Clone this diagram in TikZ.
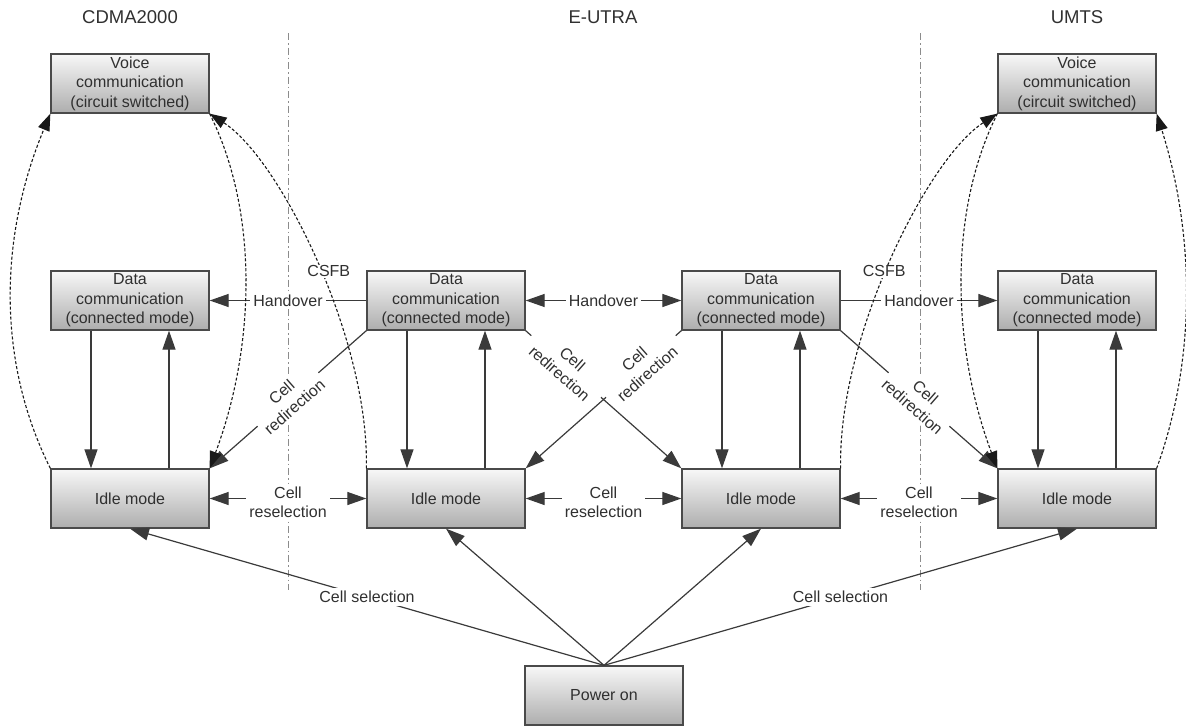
\documentclass[tikz,border=0pt]{standalone}
\usepackage{fontspec}
\setmainfont{Liberation Sans}
\usetikzlibrary{arrows.meta,calc}
\definecolor{txt}{HTML}{303030}
\definecolor{ln}{HTML}{3A3A3A}
\definecolor{bd}{HTML}{4A4A4A}
\begin{document}
\begin{tikzpicture}[x=1pt,y=-1pt,
  box/.style={draw=bd,line width=1.3pt,minimum width=158pt,minimum height=59pt,inner sep=0pt,
    align=center,top color=white!97!black,bottom color=black!32,
    font=\fontsize{16}{19.5}\selectfont,text=txt},
  ttl/.style={font=\fontsize{18.5}{22}\selectfont,text=txt},
  lbl/.style={fill=white,inner sep=3pt,align=center,font=\fontsize{16}{19.5}\selectfont,text=txt},
  conn/.style={draw=ln,line width=1.2pt,-{Triangle[length=19pt,width=13pt]}},
  both/.style={draw=ln,line width=1.2pt,{Triangle[length=19pt,width=13pt]}-{Triangle[length=19pt,width=13pt]}},
  dconn/.style={draw=black!90,line width=1.1pt,dash pattern=on 3pt off 2pt,-{Triangle[length=17pt,width=12pt]}},
  sep/.style={draw=black!45,line width=0.8pt,dash pattern=on 7pt off 3pt on 1.5pt off 3pt}]
\useasboundingbox (0,0) rectangle (1186,726);

% separators
\coordinate (s1a) at (288,33);  \coordinate (s1b) at (288,590);
\coordinate (s2a) at (920,33);  \coordinate (s2b) at (920,590);
\draw[sep] (s1a) -- (s1b);
\draw[sep] (s2a) -- (s2b);

% titles
\node[ttl] (tC) at (130,17) {CDMA2000};
\node[ttl] (tE) at (603,17) {E-UTRA};
\node[ttl] (tU) at (1077,17) {UMTS};

% boxes
\node[box] (vC) at (130,83.5) {Voice\\communication\\(circuit switched)};
\node[box] (dC) at (130,300.5) {Data\\communication\\(connected mode)};
\node[box] (iC) at (130,498.5) {Idle mode};
\node[box] (dE1) at (446,300.5) {Data\\communication\\(connected mode)};
\node[box] (iE1) at (446,498.5) {Idle mode};
\node[box] (dE2) at (761,300.5) {Data\\communication\\(connected mode)};
\node[box] (iE2) at (761,498.5) {Idle mode};
\node[box] (vU) at (1077,83.5) {Voice\\communication\\(circuit switched)};
\node[box] (dU) at (1077,300.5) {Data\\communication\\(connected mode)};
\node[box] (iU) at (1077,498.5) {Idle mode};
\node[box] (pw) at (604,695.5) {Power on};

% vertical data <-> idle
\foreach \d/\i in {dC/iC,dE1/iE1,dE2/iE2,dU/iU}{
  \draw[conn] ([xshift=-39pt]\d.south) -- ([xshift=-39pt]\i.north);
  \draw[conn] ([xshift=39pt]\i.north) -- ([xshift=39pt]\d.south);
}

% handovers
\draw[conn] (dE1.west) -- node[lbl]{Handover} (dC.east);
\draw[both] (dE1.east) -- node[lbl]{Handover} (dE2.west);
\draw[conn] (dE2.east) -- node[lbl]{Handover} (dU.west);

% cell reselection
\draw[both] (iC.east) -- node[lbl,yshift=-4pt]{Cell\\reselection} (iE1.west);
\draw[both] (iE1.east) -- node[lbl,yshift=-4pt]{Cell\\reselection} (iE2.west);
\draw[both] (iE2.east) -- node[lbl,yshift=-4pt]{Cell\\reselection} (iU.west);

% cell redirection
\draw[conn] (dE1.south west) -- node[lbl,sloped]{Cell\\redirection} (iC.north east);
\draw[conn] (dE2.south east) -- node[lbl,sloped]{Cell\\redirection} (iU.north west);
\draw[conn] (dE1.south east) -- node[lbl,sloped,pos=0.26,inner xsep=9pt]{Cell\\redirection} (iE2.north west);
\draw[conn] (dE2.south west) -- node[lbl,sloped,pos=0.26,inner xsep=9pt]{Cell\\redirection} (iE1.north east);

% cell selection
\draw[conn] (pw.north) -- node[lbl]{Cell selection} (iC.south);
\draw[conn] (pw.north) -- (iE1.south);
\draw[conn] (pw.north) -- (iE2.south);
\draw[conn] (pw.north) -- node[lbl]{Cell selection} (iU.south);

% dashed voice paths
\draw[dconn] (iC.north west) .. controls ($(iC.north west)+(-55,-110)$) and ($(vC.south west)+(-50,120)$) .. (vC.south west);
\draw[dconn] (vC.south east) .. controls ($(vC.south east)+(50,100)$) and ($(iC.north east)+(45,-120)$) .. (iC.north east);
\draw[dconn] (iE1.north west) .. controls ($(iE1.north west)+(3,-130)$) and ($(vC.south east)+(70,45)$) .. node[lbl,pos=0.47,xshift=8pt,inner sep=1pt]{CSFB} (vC.south east);
\draw[dconn] (iE2.north east) .. controls ($(iE2.north east)+(-3,-130)$) and ($(vU.south west)+(-70,45)$) .. node[lbl,pos=0.47,xshift=-2pt,inner sep=1pt]{CSFB} (vU.south west);
\draw[dconn] (vU.south west) .. controls ($(vU.south west)+(-50,100)$) and ($(iU.north west)+(-45,-120)$) .. (iU.north west);
\draw[dconn] (iU.north east) .. controls ($(iU.north east)+(40,-110)$) and ($(vU.south east)+(38,120)$) .. (vU.south east);
\end{tikzpicture}
\end{document}
